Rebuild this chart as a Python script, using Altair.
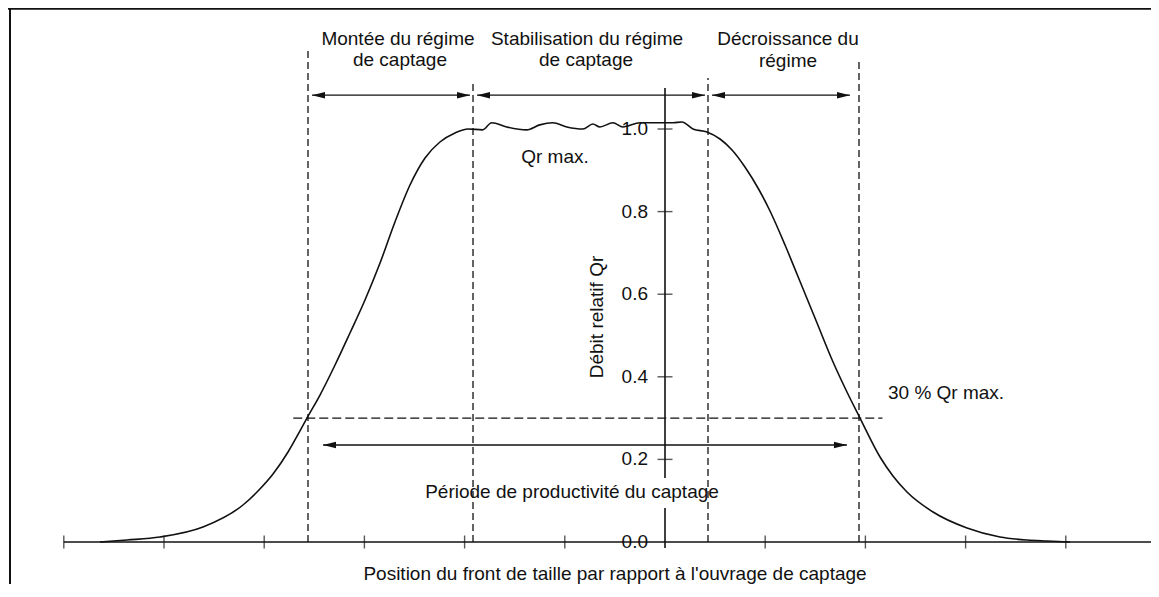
import altair as alt
import pandas as pd

# ---------------- data ----------------
# Relative flow curve (x = position in tick units, y = relative flow Qr)
curve_x = [-5.639, -5.369, -5.040, -4.611, -4.212, -4.062, -3.912, -3.762, -3.643, -3.573,
           -3.443, -3.293, -3.144, -2.994, -2.844, -2.695, -2.545, -2.395, -2.246, -2.096,
           -1.966, -1.82, -1.73, -1.58, -1.38, -1.25, -1.12, -0.98, -0.82, -0.72,
           -0.65, -0.52, -0.42, -0.25, 0.08, 0.17, 0.279, 0.419, 0.549, 0.669,
           0.798, 0.928, 1.048, 1.198, 1.317, 1.497, 1.677, 1.816, 1.946, 2.146,
           2.275, 2.415, 2.675, 3.014, 3.343, 3.613, 3.812, 4.042]
curve_y = [0.0, 0.0048, 0.0121, 0.0363, 0.0896, 0.1235, 0.1646, 0.2179, 0.2688, 0.3002,
           0.3559, 0.4286, 0.5061, 0.5860, 0.6755, 0.7748, 0.8644, 0.9298, 0.9685, 0.9903,
           1.000, 0.998, 1.015, 1.005, 0.998, 1.010, 1.015, 1.005, 1.000, 1.012,
           1.005, 1.015, 1.005, 1.015, 1.015, 1.017, 1.000, 0.9927, 0.9758, 0.9492,
           0.9080, 0.8571, 0.8015, 0.7191, 0.6489, 0.5424, 0.4358, 0.3632, 0.3002, 0.2058,
           0.1598, 0.1211, 0.0726, 0.0339, 0.0121, 0.0048, 0.0024, 0.0]

y_tick_values = [0.0, 0.2, 0.4, 0.6, 0.8, 1.0]
y_tick_labels = ["0.0", "0.2", "0.4", "0.6", "0.8", "1.0"]
y_ticks_marked = [0.2, 0.4, 0.6, 0.8, 1.0]
x_tick_values = [-6, -5, -4, -3, -2, -1, 1, 2, 3, 4]
x_axis_start = -6

# y axis drawn in two pieces (gap around the label)
yaxis_from = [1.0993, 0.0823]
yaxis_to = [0.155, -0.0145]

# dashed phase boundaries
phase_x = [-3.563, -1.916, 0.429, 1.936]
phase_top = [1.1985, 1.1186, 1.1235, 1.1719]

# 30 % threshold
threshold_value = [0.3]
threshold_from = [-3.71]
threshold_to = [2.17]

# double arrows
arrow_x1 = [-3.523, -1.876, 0.469, -3.413]
arrow_x2 = [-1.946, 0.399, 1.846, 1.816]
arrow_y = [1.082, 1.082, 1.082, 0.2349]

# centred annotations
center_text = ["Montée du régime", "de captage",
               "Stabilisation du régime", "de captage",
               "Décroissance du", "régime",
               "Qr max.",
               "Période de productivité du captage",
               "Position du front de taille par rapport à l'ouvrage de captage"]
center_x = [-2.665, -2.645, -0.778, -0.788, 1.2275, 1.2275, -1.098, -0.928, -0.499]
center_y = [1.2034, 1.1525, 1.2034, 1.1525, 1.2034, 1.150, 0.9177, 0.1065, -0.092]

left_text = ["30 % Qr max."]
left_x = [2.2255]
left_y = [0.3462]

axis_title = ["Débit relatif Qr"]
axis_title_x = [-0.679]
axis_title_y = [0.5448]

# ---------------- scales ----------------
W, H = 1143, 576
X_DOMAIN = [-6.55689, -6.55689 + W / 100.2]
Y_DOMAIN = [1.292978 - H / 413.0, 1.292978]
xs = alt.Scale(domain=X_DOMAIN, nice=False, zero=False)
ys = alt.Scale(domain=Y_DOMAIN, nice=False, zero=False)

FONT = "Liberation Sans"
FS = 19
INK = "#111111"


def X(f):
    return alt.X(f"{f}:Q", scale=xs, axis=None)


def Y(f):
    return alt.Y(f"{f}:Q", scale=ys, axis=None)


curve_df = pd.DataFrame({"x": curve_x, "y": curve_y})
curve = alt.Chart(curve_df).mark_line(color=INK, strokeWidth=1.6, interpolate="monotone").encode(
    x=X("x"), y=Y("y"), order="x:Q")

# frame (top + left border)
frame_top = alt.Chart(pd.DataFrame({"x": [X_DOMAIN[0]], "x2": [X_DOMAIN[1]], "y": [Y_DOMAIN[1] - 0.002]})).mark_rule(
    color=INK, strokeWidth=2).encode(x=X("x"), x2="x2:Q", y=Y("y"))
frame_left = alt.Chart(pd.DataFrame({"x": [X_DOMAIN[0] + 0.02], "y": [Y_DOMAIN[0]], "y2": [Y_DOMAIN[1]]})).mark_rule(
    color=INK, strokeWidth=2).encode(x=X("x"), y=Y("y"), y2="y2:Q")

# x axis
xaxis = alt.Chart(pd.DataFrame({"x": [x_axis_start], "x2": [X_DOMAIN[1]], "y": [0.0]})).mark_rule(
    color=INK, strokeWidth=1.5).encode(x=X("x"), x2="x2:Q", y=Y("y"))
xticks = alt.Chart(pd.DataFrame({"x": x_tick_values, "y": [0.0] * len(x_tick_values)})).mark_tick(
    orient="vertical", size=13, thickness=1.4, color=INK).encode(x=X("x"), y=Y("y"))

# y axis
yaxis = alt.Chart(pd.DataFrame({"x": [0.0] * len(yaxis_from), "y": yaxis_from, "y2": yaxis_to})).mark_rule(
    color=INK, strokeWidth=1.6).encode(x=X("x"), y=Y("y"), y2="y2:Q")
yticks = alt.Chart(pd.DataFrame({"x": [0.0] * len(y_ticks_marked), "y": y_ticks_marked})).mark_tick(
    orient="horizontal", size=15, thickness=1.4, color=INK).encode(x=X("x"), y=Y("y"))
ylabels = alt.Chart(pd.DataFrame({"x": [0.0] * len(y_tick_values), "y": y_tick_values, "t": y_tick_labels})).mark_text(
    align="right", baseline="middle", dx=-17, font=FONT, fontSize=FS, color=INK).encode(
    x=X("x"), y=Y("y"), text="t:N")

# dashed lines
phases = alt.Chart(pd.DataFrame({"x": phase_x, "y": [0.0] * len(phase_x), "y2": phase_top})).mark_rule(
    color=INK, strokeWidth=1.3, strokeDash=[7, 4]).encode(x=X("x"), y=Y("y"), y2="y2:Q")
threshold = alt.Chart(pd.DataFrame({"x": threshold_from, "x2": threshold_to, "y": threshold_value})).mark_rule(
    color=INK, strokeWidth=1.3, strokeDash=[9, 4]).encode(x=X("x"), x2="x2:Q", y=Y("y"))

# arrows
arrow_df = pd.DataFrame({"x1": arrow_x1, "x2": arrow_x2, "y": arrow_y})
arrow_lines = alt.Chart(arrow_df).mark_rule(color=INK, strokeWidth=1.4).encode(
    x=X("x1"), x2="x2:Q", y=Y("y"))
head_left = alt.Chart(arrow_df).mark_point(
    shape="M0,0 L2,-0.5 L2,0.5 Z", size=169, filled=True, color=INK, opacity=1).encode(x=X("x1"), y=Y("y"))
head_right = alt.Chart(arrow_df).mark_point(
    shape="M0,0 L-2,-0.5 L-2,0.5 Z", size=169, filled=True, color=INK, opacity=1).encode(x=X("x2"), y=Y("y"))

# annotations
ctext = alt.Chart(pd.DataFrame({"x": center_x, "y": center_y, "t": center_text})).mark_text(
    align="center", baseline="alphabetic", font=FONT, fontSize=FS, color=INK).encode(
    x=X("x"), y=Y("y"), text="t:N")
ltext = alt.Chart(pd.DataFrame({"x": left_x, "y": left_y, "t": left_text})).mark_text(
    align="left", baseline="alphabetic", font=FONT, fontSize=FS, color=INK).encode(
    x=X("x"), y=Y("y"), text="t:N")
ytitle = alt.Chart(pd.DataFrame({"x": axis_title_x, "y": axis_title_y, "t": axis_title})).mark_text(
    align="center", baseline="middle", angle=270, font=FONT, fontSize=FS, color=INK).encode(
    x=X("x"), y=Y("y"), text="t:N")

chart = alt.layer(
    frame_top, frame_left, phases, threshold, xaxis, xticks, yaxis, yticks,
    arrow_lines, head_left, head_right, curve, ylabels, ctext, ltext, ytitle
).properties(
    width=W, height=H,
    autosize=alt.AutoSizeParams(type="none"),
    padding=0,
    background="white",
).configure_view(stroke=None)

chart.save("out.html", embed_options={"renderer": "svg", "actions": False})
